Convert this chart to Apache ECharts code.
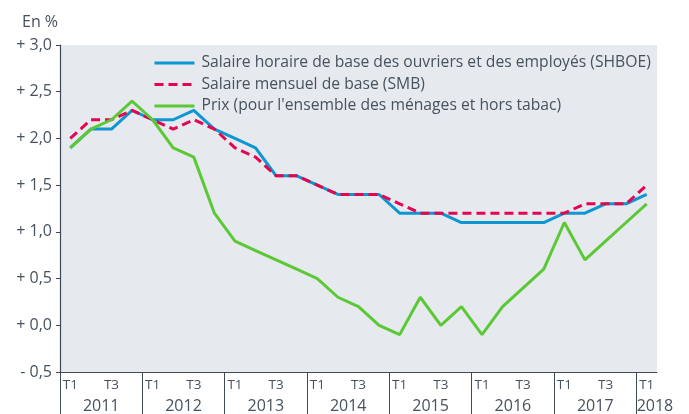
<!DOCTYPE html>
<html>
<head>
<meta charset="utf-8">
<script src="https://cdn.jsdelivr.net/npm/echarts@6/dist/echarts.min.js"></script>
<style>
  html, body { margin: 0; padding: 0; background: #fff; }
  #chart { width: 689px; height: 414px; }
</style>
</head>
<body>
<div id="chart"></div>
<script>
// trimestres 2011 T1 -> 2018 T1
const years = ['2011', '2012', '2013', '2014', '2015', '2016', '2017', '2018']
const quarters = []
for (let y = 0; y < years.length; y++) {
    for (let q = 1; q <= 4; q++) {
        if (years[y] === '2018' && q > 1) break
        quarters.push(years[y] + ' T' + q)
    }
}

const shboe = [1.9, 2.1, 2.1, 2.3, 2.2, 2.2, 2.3, 2.1, 2.0, 1.9, 1.6, 1.6, 1.5, 1.4, 1.4, 1.4,
    1.2, 1.2, 1.2, 1.1, 1.1, 1.1, 1.1, 1.1, 1.2, 1.2, 1.3, 1.3, 1.4]
const smb = [2.0, 2.2, 2.2, 2.3, 2.2, 2.1, 2.2, 2.1, 1.9, 1.8, 1.6, 1.6, 1.5, 1.4, 1.4, 1.4,
    1.3, 1.2, 1.2, 1.2, 1.2, 1.2, 1.2, 1.2, 1.2, 1.3, 1.3, 1.3, 1.5]
const prix = [1.9, 2.1, 2.2, 2.4, 2.2, 1.9, 1.8, 1.2, 0.9, 0.8, 0.7, 0.6, 0.5, 0.3, 0.2, 0.0,
    -0.1, 0.3, 0.0, 0.2, -0.1, 0.2, 0.4, 0.6, 1.1, 0.7, 0.9, 1.1, 1.3]

const yearTicks = [0, 4, 8, 12, 16, 20, 24, 28]
const yearLabelPos = [2, 6, 10, 14, 18, 22, 26, 28.9]

const txt = '#46525e'
const axisCol = '#3f4a54'
const font = 'Open Sans'

let chart = echarts.init(document.getElementById('chart'))
chart.setOption({
    animation: false,
    textStyle: { fontFamily: font },
    title: {
        text: 'En %',
        left: 17, top: 9,
        textStyle: { fontSize: 16, fontWeight: 'normal', color: txt, fontFamily: font }
    },
    grid: { left: 60, right: 32, top: 45, bottom: 42, show: true, backgroundColor: '#e6e9ee', borderWidth: 0 },
    legend: {
        orient: 'vertical',
        left: 148, top: 50,
        itemWidth: 40, itemHeight: 14, itemGap: 5.5,
        itemStyle: { opacity: 0 },
        lineStyle: { width: 3 },
        textStyle: { fontSize: 15.7, color: txt, fontFamily: font, padding: [0, 0, 0, 2] },
        data: [
            'Salaire horaire de base des ouvriers et des employés (SHBOE)',
            'Salaire mensuel de base (SMB)',
            "Prix (pour l'ensemble des ménages et hors tabac)"
        ]
    },
    xAxis: [{
        type: 'category',
        data: quarters,
        boundaryGap: true,
        axisLine: { onZero: false, lineStyle: { color: axisCol, width: 1.2 } },
        axisTick: { interval: 0, length: 7, lineStyle: { color: axisCol } },
        axisLabel: {
            interval: 0, margin: 6, fontSize: 13.5, color: txt, fontFamily: font,
            formatter: v => (v.endsWith('T1') || v.endsWith('T3')) ? v.slice(5) : ''
        },
        splitLine: { show: false }
    }, {
        type: 'value',
        min: 0, max: 29,
        position: 'bottom',
        axisLine: { show: false, onZero: false },
        splitLine: { show: false },
        axisTick: { show: true, length: 42, customValues: yearTicks, lineStyle: { color: axisCol } },
        axisLabel: {
            customValues: yearLabelPos, margin: 26, fontSize: 16, color: txt, fontFamily: font,
            formatter: v => years[Math.floor(v / 4)]
        }
    }],
    yAxis: {
        type: 'value',
        min: -0.5, max: 3.0, interval: 0.5,
        axisLine: { show: true, lineStyle: { color: axisCol, width: 1.2 } },
        axisTick: { show: true, length: 4, lineStyle: { color: axisCol } },
        splitLine: { show: false },
        axisLabel: {
            margin: 8, fontSize: 16, color: txt, fontFamily: font,
            formatter: v => (v < 0 ? '- ' : '+ ') + Math.abs(v).toFixed(1).replace('.', ',')
        }
    },
    series: [{
        name: 'Salaire horaire de base des ouvriers et des employés (SHBOE)',
        type: 'line', data: shboe, symbol: 'none',
        lineStyle: { color: '#0e96d3', width: 3 }, itemStyle: { color: '#0e96d3' }
    }, {
        name: 'Salaire mensuel de base (SMB)',
        type: 'line', data: smb, symbol: 'none',
        lineStyle: { color: '#e3064f', width: 3, type: [9, 5] }, itemStyle: { color: '#e3064f' }
    }, {
        name: "Prix (pour l'ensemble des ménages et hors tabac)",
        type: 'line', data: prix, symbol: 'none',
        lineStyle: { color: '#5bc935', width: 3 }, itemStyle: { color: '#5bc935' }
    }]
})
</script>
</body>
</html>
